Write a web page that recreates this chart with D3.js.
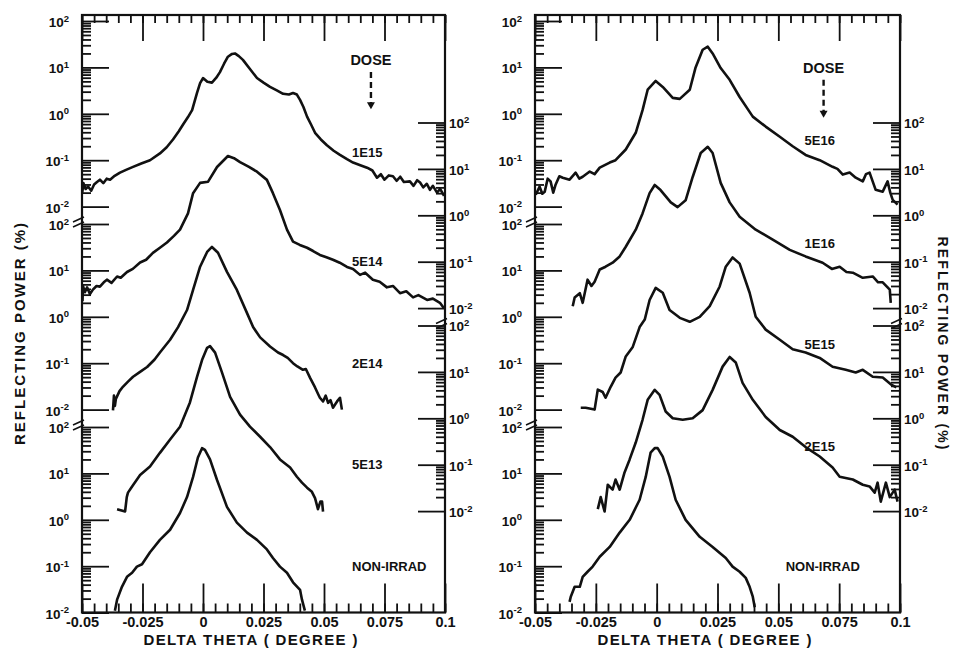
<!DOCTYPE html>
<html>
<head>
<meta charset="utf-8">
<script src="https://cdn.jsdelivr.net/npm/d3@7"></script>
<style>
body { margin: 0; background: #fff; }
text { font-family: "Liberation Sans", Arial, sans-serif; font-weight: bold; fill: #111; }
</style>
</head>
<body>
<script>
var W = 953, H = 650;

// axis ticks
var thetaTicks = [-0.05, -0.025, 0, 0.025, 0.05, 0.075, 0.1];
var thetaLabels = ["-0.05", "-0.025", "0", "0.025", "0.05", "0.075", "0.1"];
var powerDecades = [100, 10, 1, 0.1, 0.01];
var powerExps = ["2", "1", "0", "-1", "-2"];

// left panel curves: [delta theta (degree), reflecting power (%)]
var dose1E15 = [[-0.0499,0.02],[-0.0494,0.032],[-0.0485,0.024],[-0.0475,0.027],[-0.0462,0.022],[-0.045,0.03],[-0.0438,0.034],[-0.0426,0.038],[-0.0412,0.032],[-0.0398,0.04],[-0.0384,0.038],[-0.0365,0.046],[-0.0343,0.054],[-0.0318,0.062],[-0.0289,0.072],[-0.0255,0.085],[-0.0219,0.10],[-0.0178,0.14],[-0.015,0.19],[-0.0124,0.28],[-0.01,0.42],[-0.0083,0.58],[-0.0062,0.85],[-0.0045,1.2],[-0.0025,2.8],[-0.0012,4.6],[0,5.9],[0.0018,4.9],[0.0037,4.7],[0.0055,6.0],[0.007,7.9],[0.0087,12],[0.0103,17],[0.012,19.5],[0.0132,20],[0.0148,17.5],[0.0165,14.5],[0.019,9.8],[0.0223,5.9],[0.025,4.7],[0.0277,3.8],[0.0305,3.2],[0.0331,2.7],[0.0355,2.6],[0.0372,2.8],[0.0388,2.6],[0.0401,2.0],[0.0415,1.4],[0.043,0.87],[0.0447,0.58],[0.0463,0.39],[0.0487,0.28],[0.0512,0.21],[0.054,0.16],[0.0566,0.13],[0.0595,0.105],[0.062,0.089],[0.065,0.078],[0.0678,0.069],[0.07,0.06],[0.0719,0.042],[0.0735,0.05],[0.075,0.038],[0.0768,0.047],[0.0785,0.045],[0.08,0.036],[0.0815,0.044],[0.083,0.034],[0.0855,0.035],[0.087,0.028],[0.0885,0.037],[0.0897,0.033],[0.091,0.026],[0.0925,0.031],[0.0938,0.023],[0.095,0.028],[0.0967,0.020],[0.098,0.024],[0.0996,0.017]];
var dose5E14 = [[-0.0498,0.014],[-0.0496,0.03],[-0.0488,0.022],[-0.0479,0.028],[-0.0467,0.02],[-0.0455,0.025],[-0.044,0.03],[-0.0426,0.029],[-0.041,0.036],[-0.0397,0.041],[-0.0378,0.035],[-0.0355,0.048],[-0.034,0.045],[-0.0314,0.060],[-0.029,0.07],[-0.026,0.096],[-0.0235,0.11],[-0.0207,0.155],[-0.0178,0.2],[-0.0149,0.26],[-0.012,0.36],[-0.0095,0.49],[-0.0062,1.1],[-0.0041,3.0],[-0.0012,5.0],[0.0021,5.3],[0.0058,11],[0.0103,19],[0.0128,17],[0.0153,14],[0.019,11],[0.0223,8.7],[0.0264,5.8],[0.0289,3.0],[0.0318,1.3],[0.0347,0.49],[0.0372,0.27],[0.04,0.23],[0.043,0.20],[0.0455,0.17],[0.0483,0.14],[0.051,0.125],[0.0537,0.11],[0.0565,0.095],[0.0595,0.077],[0.062,0.07],[0.0649,0.052],[0.067,0.058],[0.0702,0.041],[0.073,0.037],[0.076,0.028],[0.0785,0.03],[0.0814,0.021],[0.084,0.023],[0.0868,0.017],[0.089,0.019],[0.0926,0.015],[0.095,0.016],[0.0979,0.013],[0.0995,0.01]];
var dose2E14 = [[-0.0372,0.0096],[-0.0368,0.02],[-0.0364,0.012],[-0.036,0.017],[-0.0345,0.025],[-0.0331,0.031],[-0.031,0.04],[-0.0289,0.051],[-0.026,0.065],[-0.0231,0.083],[-0.02,0.12],[-0.0178,0.17],[-0.0155,0.24],[-0.0136,0.32],[-0.0103,0.60],[-0.0066,1.4],[-0.0041,3.8],[-0.0012,12],[0.0017,25],[0.0037,32],[0.0062,24],[0.0099,9.3],[0.014,3.8],[0.0182,1.2],[0.0207,0.60],[0.0236,0.36],[0.0277,0.23],[0.031,0.17],[0.0331,0.15],[0.035,0.13],[0.0372,0.10],[0.039,0.085],[0.0413,0.072],[0.0425,0.075],[0.0442,0.049],[0.0463,0.030],[0.0475,0.022],[0.0483,0.018],[0.0496,0.015],[0.0507,0.02],[0.0517,0.014],[0.0527,0.016],[0.0537,0.011],[0.0554,0.015],[0.0566,0.018],[0.0574,0.01]];
var dose5E13 = [[-0.0355,0.011],[-0.0322,0.0098],[-0.0315,0.02],[-0.031,0.025],[-0.0293,0.034],[-0.026,0.060],[-0.0219,0.091],[-0.0178,0.18],[-0.0136,0.35],[-0.0095,0.66],[-0.0054,2.2],[-0.0025,7.7],[-0.0004,18],[0.0017,33],[0.0029,36],[0.005,26],[0.0079,9.5],[0.0112,2.9],[0.0153,1.2],[0.0194,0.66],[0.0236,0.40],[0.0277,0.24],[0.0318,0.13],[0.036,0.087],[0.0388,0.055],[0.0409,0.041],[0.043,0.032],[0.045,0.026],[0.0463,0.019],[0.0475,0.011],[0.0485,0.016],[0.0492,0.016],[0.0496,0.0098]];
var nonIrradLeft = [[-0.0364,0.011],[-0.0355,0.019],[-0.0335,0.036],[-0.0314,0.059],[-0.0293,0.072],[-0.0273,0.098],[-0.0252,0.11],[-0.0219,0.20],[-0.0178,0.37],[-0.0136,0.61],[-0.0095,1.4],[-0.0066,3.1],[-0.0041,8.4],[-0.0021,22],[-0.0004,35],[0.0008,32],[0.0029,20],[0.0058,7.2],[0.0099,1.9],[0.014,0.87],[0.0182,0.53],[0.0223,0.37],[0.0264,0.23],[0.0289,0.15],[0.0318,0.098],[0.0347,0.072],[0.0372,0.045],[0.0401,0.031],[0.0409,0.019],[0.0421,0.011]];

// right panel curves
var dose5E16 = [[-0.0497,0.018],[-0.0481,0.027],[-0.047,0.019],[-0.046,0.021],[-0.0448,0.04],[-0.0436,0.035],[-0.0425,0.02],[-0.0415,0.030],[-0.04,0.045],[-0.0386,0.042],[-0.0358,0.038],[-0.0333,0.054],[-0.0318,0.04],[-0.0304,0.044],[-0.0275,0.057],[-0.0255,0.05],[-0.0234,0.069],[-0.0193,0.089],[-0.0169,0.10],[-0.0127,0.17],[-0.0086,0.39],[-0.0058,1.2],[-0.0037,3.3],[-0.0004,5.1],[0.0025,3.8],[0.0066,2.2],[0.0095,2.1],[0.0136,3.3],[0.016,10],[0.0189,24],[0.021,28],[0.023,20],[0.0263,9.7],[0.03,5.4],[0.0341,2.3],[0.0395,0.87],[0.0448,0.53],[0.0506,0.32],[0.0559,0.20],[0.0612,0.13],[0.067,0.10],[0.0723,0.072],[0.0743,0.065],[0.0765,0.049],[0.0793,0.054],[0.0818,0.042],[0.0847,0.035],[0.086,0.05],[0.0875,0.054],[0.09,0.023],[0.0929,0.021],[0.0949,0.035],[0.096,0.02],[0.097,0.014],[0.099,0.011]];
var dose1E16 = [[-0.0345,0.011],[-0.0337,0.017],[-0.0316,0.021],[-0.0304,0.013],[-0.0284,0.041],[-0.0268,0.03],[-0.0255,0.037],[-0.0234,0.068],[-0.021,0.078],[-0.0181,0.095],[-0.0152,0.13],[-0.0127,0.21],[-0.0086,0.49],[-0.0058,1.1],[-0.0029,3.0],[-0.0008,4.5],[0.0016,3.5],[0.0058,1.9],[0.0086,1.5],[0.0119,2.1],[0.0148,6.7],[0.0181,22],[0.021,30],[0.023,22],[0.0263,5.0],[0.03,1.9],[0.0341,0.93],[0.0407,0.49],[0.0477,0.30],[0.0547,0.18],[0.0612,0.13],[0.0682,0.095],[0.072,0.07],[0.0752,0.078],[0.078,0.06],[0.0806,0.058],[0.0847,0.045],[0.0888,0.048],[0.091,0.036],[0.0929,0.036],[0.0958,0.025],[0.0962,0.013]];
var dose5E15 = [[-0.0312,0.011],[-0.0292,0.011],[-0.0255,0.010],[-0.0242,0.027],[-0.0222,0.024],[-0.021,0.018],[-0.0189,0.031],[-0.0169,0.049],[-0.0148,0.063],[-0.0127,0.14],[-0.0099,0.22],[-0.007,0.60],[-0.0049,0.87],[-0.0029,2.3],[-0.0004,4.2],[0.0025,3.3],[0.0053,1.4],[0.0095,0.95],[0.0136,0.78],[0.0177,1.0],[0.0218,1.7],[0.0259,4.5],[0.0284,12],[0.0312,19],[0.0341,14],[0.0382,3.3],[0.0407,1.0],[0.0448,0.53],[0.0506,0.32],[0.0559,0.20],[0.0612,0.17],[0.067,0.13],[0.0723,0.084],[0.0777,0.072],[0.0818,0.063],[0.0847,0.072],[0.0888,0.051],[0.0929,0.049],[0.0962,0.035],[0.0985,0.03]];
var dose2E15 = [[-0.0242,0.011],[-0.023,0.020],[-0.0214,0.0098],[-0.0201,0.037],[-0.0181,0.029],[-0.0169,0.048],[-0.0152,0.029],[-0.0132,0.068],[-0.0111,0.13],[-0.0086,0.30],[-0.0058,0.93],[-0.0037,2.5],[-0.0008,4.1],[0.0012,3.2],[0.0037,1.4],[0.0066,1.0],[0.0107,0.93],[0.0148,1.0],[0.0189,1.5],[0.023,4.1],[0.0271,13],[0.03,21],[0.0325,16],[0.0353,5.8],[0.0395,2.5],[0.0448,1.07],[0.0506,0.56],[0.0559,0.40],[0.0612,0.24],[0.067,0.15],[0.0723,0.087],[0.0752,0.055],[0.0806,0.048],[0.0847,0.037],[0.0875,0.034],[0.0896,0.025],[0.0908,0.041],[0.0921,0.016],[0.0942,0.041],[0.0958,0.020],[0.0978,0.029],[0.099,0.016]];
var nonIrradRight = [[-0.0358,0.017],[-0.0353,0.022],[-0.0337,0.036],[-0.0316,0.036],[-0.0304,0.059],[-0.0284,0.076],[-0.0263,0.098],[-0.0234,0.16],[-0.0193,0.26],[-0.0152,0.53],[-0.0111,1.0],[-0.007,2.7],[-0.0045,8.4],[-0.0025,28],[-0.0008,35],[0.0004,35],[0.0025,23],[0.0053,8.4],[0.0078,2.7],[0.0119,1.0],[0.0177,0.43],[0.023,0.26],[0.0284,0.15],[0.0312,0.098],[0.0341,0.076],[0.0366,0.056],[0.0382,0.036],[0.0395,0.022],[0.0403,0.013]];

// dose labels, top curve first (each curve gets its own stacked log axis)
var leftDoses = ["1E15", "5E14", "2E14", "5E13", "NON-IRRAD"];
var rightDoses = ["5E16", "1E16", "5E15", "2E15", "NON-IRRAD"];

// layout
var FRAME_TOP = 15, FRAME_BOTTOM = 612.5;
var SEG_TOP = 21, SEG_STEP = 101.5, SEG_H = 185.6;
var INK = "#111";

var panels = [
  { x0: 82, x1: 445, names: leftDoses, data: [dose1E15, dose5E14, dose2E14, dose5E13, nonIrradLeft],
    labelAt: [[0.0616, 0.15], [0.0616, 0.1], [0.0616, 0.1], [0.0616, 0.1], [0.0616, 0.1]],
    dose: { theta: 0.0694, text: 14.5, from: 8, to: 1.25 } },
  { x0: 535, x1: 900, names: rightDoses, data: [dose5E16, dose1E16, dose5E15, dose2E15, nonIrradRight],
    labelAt: [[0.0608, 0.27], [0.0608, 0.25], [0.0608, 0.25], [0.0608, 0.25], [0.053, 0.1]],
    dose: { theta: 0.0686, text: 10, from: 5.4, to: 0.82 } }
];

var svg = d3.select("body").append("svg")
  .attr("width", W)
  .attr("height", H);

function segScale(k) {
  var top = SEG_TOP + k * SEG_STEP;
  return d3.scaleLog().domain([0.01, 100]).range([top + SEG_H, top]);
}

function styleAxis(g, labelSize) {
  g.select(".domain").remove();
  g.attr("font-family", null).attr("font-size", null);
  g.selectAll(".tick line").attr("stroke", INK).attr("stroke-width", 1.8);
  g.selectAll(".tick text").style("font-size", labelSize);
}

function isDecade(v) {
  var l = Math.log10(v);
  return Math.abs(l - Math.round(l)) < 1e-6;
}

function breakMark(g, x, y) {
  [0, 5].forEach(function(o) {
    g.append("line")
      .attr("x1", x - 9).attr("y1", y + o + 2)
      .attr("x2", x + 2).attr("y2", y + o - 3)
      .attr("stroke", INK).attr("stroke-width", 1.5);
  });
}

panels.forEach(function(p) {
  var g = svg.append("g");
  var x = d3.scaleLinear().domain([-0.05, 0.1]).range([p.x0, p.x1]);
  var minorTheta = d3.range(-50, 101, 5).map(function(v) { return v / 1000; });

  // top x ticks (pointing down into the plot)
  g.append("g").attr("transform", "translate(0," + FRAME_TOP + ")")
    .call(d3.axisTop(x).tickValues(thetaTicks).tickSize(-26).tickFormat(""))
    .call(styleAxis, "13px");
  g.append("g").attr("transform", "translate(0," + FRAME_TOP + ")")
    .call(d3.axisTop(x).tickValues(minorTheta).tickSize(-8).tickFormat(""))
    .call(styleAxis, "13px");

  // bottom x ticks with labels
  g.append("g").attr("transform", "translate(0," + FRAME_BOTTOM + ")")
    .call(d3.axisBottom(x).tickValues(thetaTicks).tickSize(-29).tickPadding(4)
      .tickFormat(function(d, i) { return thetaLabels[i]; }))
    .call(styleAxis, "14.5px");
  g.append("g").attr("transform", "translate(0," + FRAME_BOTTOM + ")")
    .call(d3.axisBottom(x).tickValues(minorTheta).tickSize(-9).tickFormat(""))
    .call(styleAxis, "13px");

  // one log axis per curve, alternating left / right
  p.data.forEach(function(series, k) {
    var y = segScale(k);
    var onLeft = k % 2 === 0;
    var xPos = onLeft ? p.x0 : p.x1;
    var make = onLeft ? d3.axisLeft : d3.axisRight;
    var minors = y.ticks().filter(function(v) { return !isDecade(v); });

    g.append("g").attr("transform", "translate(" + xPos + ",0)")
      .call(make(y).tickValues(minors).tickSize(-9).tickFormat(""))
      .call(styleAxis, "13px");

    var major = g.append("g").attr("transform", "translate(" + xPos + ",0)")
      .call(make(y).tickValues(powerDecades).tickSize(-27).tickPadding(onLeft ? 13 : 4).tickFormat(""))
      .call(styleAxis, "13.5px");

    major.selectAll(".tick text").each(function(d) {
      var t = d3.select(this).attr("dy", "0.4em").text(null);
      t.append("tspan").text("10");
      t.append("tspan").attr("dy", "-0.55em").style("font-size", "9.5px")
        .text(powerExps[powerDecades.indexOf(d)]);
    });

    if (k >= 2) breakMark(g, xPos, y(100) - 4);

    var line = d3.line()
      .x(function(d) { return x(d[0]); })
      .y(function(d) { return y(d[1]); });

    g.append("path")
      .datum(series)
      .attr("d", line)
      .attr("fill", "none")
      .attr("stroke", INK)
      .attr("stroke-width", 2.6)
      .attr("stroke-linejoin", "round");

    g.append("text")
      .attr("x", x(p.labelAt[k][0]))
      .attr("y", y(p.labelAt[k][1]))
      .attr("dy", "0.36em")
      .style("font-size", "13px")
      .text(p.names[k]);
  });

  // frame
  g.append("rect")
    .attr("x", p.x0).attr("y", FRAME_TOP)
    .attr("width", p.x1 - p.x0).attr("height", FRAME_BOTTOM - FRAME_TOP)
    .attr("fill", "none").attr("stroke", INK).attr("stroke-width", 2.2);

  // DOSE with dashed arrow
  var y0 = segScale(0);
  var ax = x(p.dose.theta);
  g.append("text")
    .attr("x", ax).attr("y", y0(p.dose.text))
    .attr("dy", "0.36em").attr("text-anchor", "middle")
    .style("font-size", "14.5px")
    .text("DOSE");
  g.append("line")
    .attr("x1", ax).attr("y1", y0(p.dose.from))
    .attr("x2", ax).attr("y2", y0(p.dose.to) - 5)
    .attr("stroke", INK).attr("stroke-width", 2.4)
    .attr("stroke-dasharray", "6,4");
  var tip = y0(p.dose.to);
  g.append("path")
    .attr("d", "M" + (ax - 4) + "," + (tip - 7) + "L" + (ax + 4) + "," + (tip - 7) + "L" + ax + "," + tip + "Z")
    .attr("fill", INK);

  // x title
  g.append("text")
    .attr("x", (p.x0 + p.x1) / 2 - 13)
    .attr("y", 645)
    .attr("text-anchor", "middle")
    .attr("textLength", 214)
    .attr("lengthAdjust", "spacing")
    .style("font-size", "15px")
    .text("DELTA THETA ( DEGREE )");
});

// y titles
svg.append("text")
  .attr("transform", "translate(20,334) rotate(-90)")
  .attr("dy", "0.36em")
  .attr("text-anchor", "middle")
  .attr("textLength", 222)
  .attr("lengthAdjust", "spacing")
  .style("font-size", "15px")
  .text("REFLECTING POWER (%)");

svg.append("text")
  .attr("transform", "translate(943,343) rotate(90)")
  .attr("dy", "0.36em")
  .attr("text-anchor", "middle")
  .attr("textLength", 213)
  .attr("lengthAdjust", "spacing")
  .style("font-size", "14px")
  .text("REFLECTING POWER (%)");
</script>
</body>
</html>
